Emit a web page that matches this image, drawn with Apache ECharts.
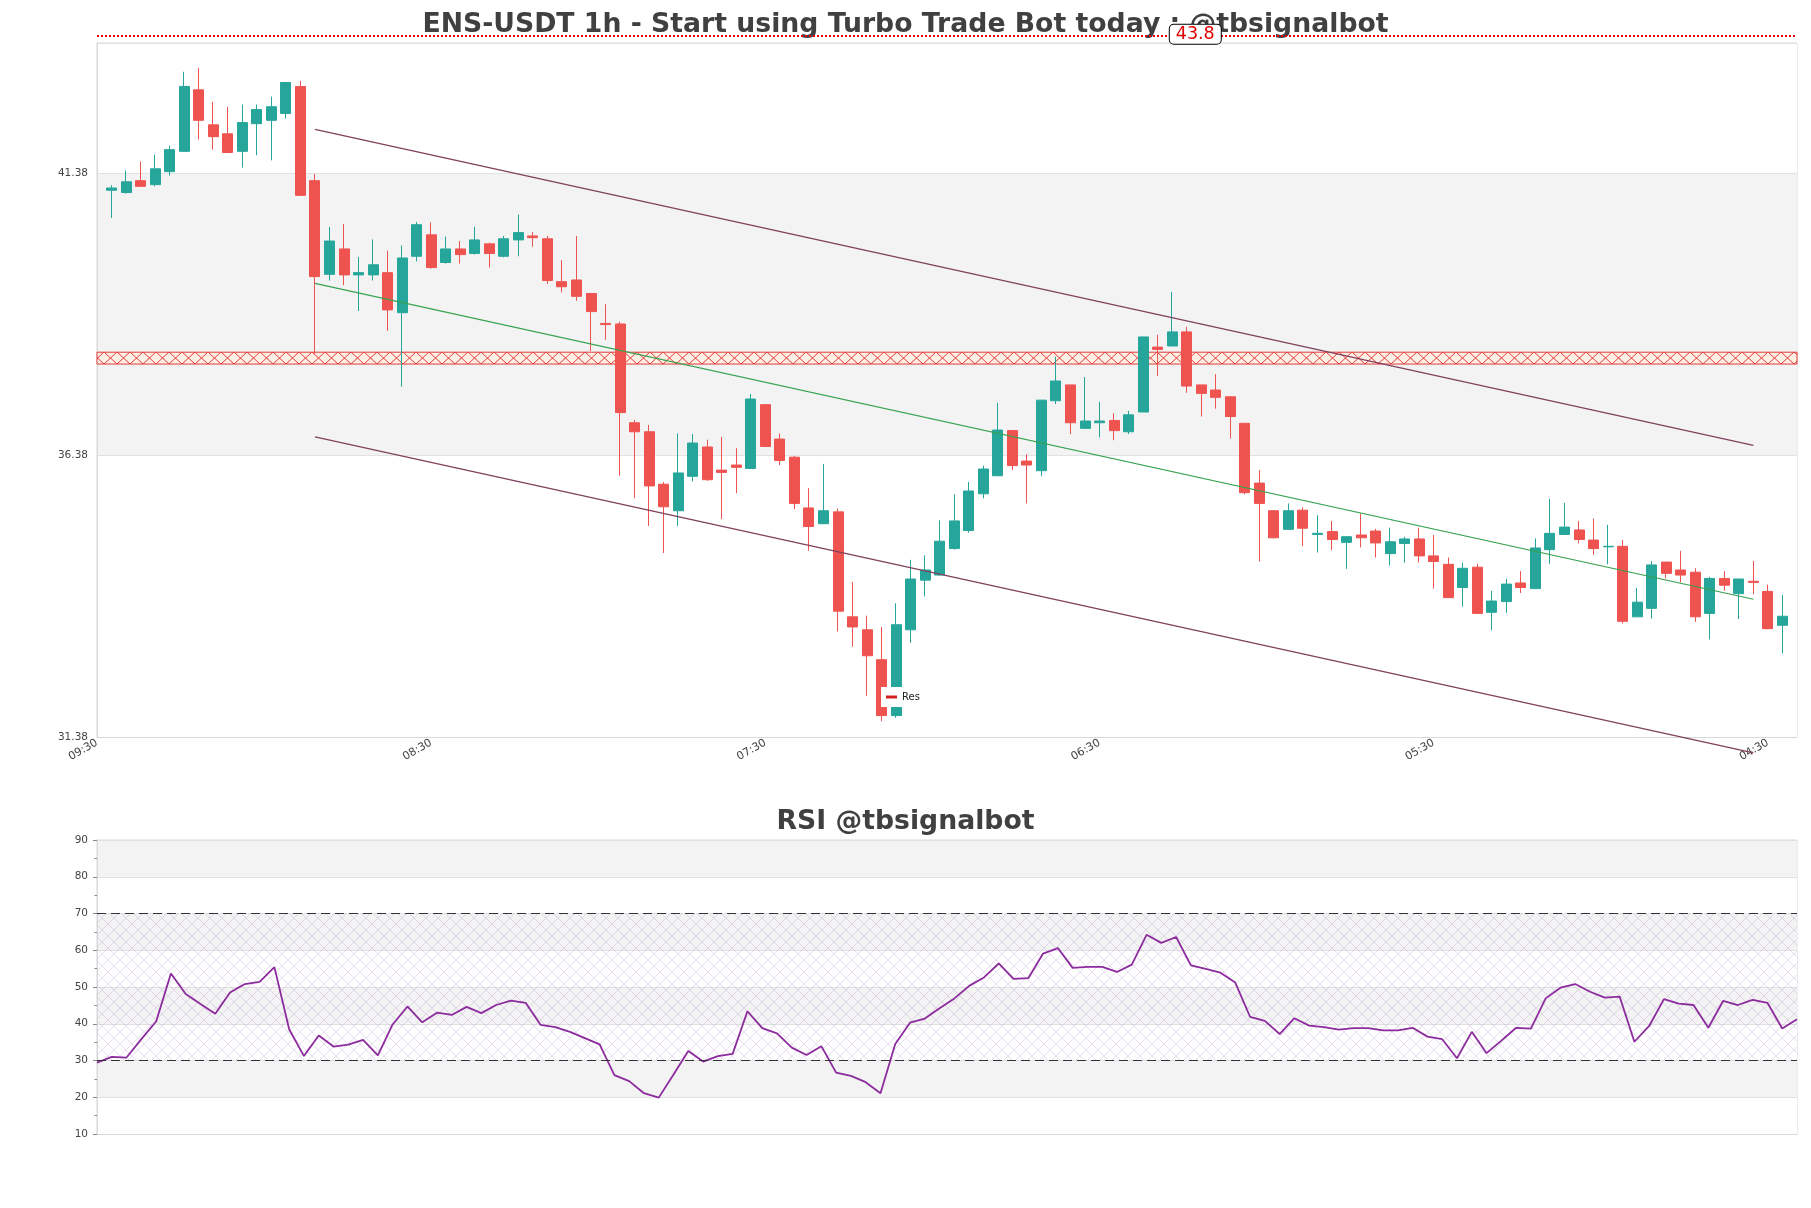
<!DOCTYPE html>
<html>
<head>
<meta charset="utf-8">
<title>ENS-USDT 1h</title>
<script src="https://cdn.jsdelivr.net/npm/echarts@6/dist/echarts.min.js"></script>
<style>
  html, body { margin: 0; padding: 0; background: #fff; }
  #chart { width: 1811px; height: 1208px; }
</style>
</head>
<body>
<div id="chart"></div>
<script>
// hourly candles, oldest first
const candleOpen = [41.07, 41.03, 41.24, 41.17, 41.40, 41.76, 42.85, 42.23, 42.07, 41.76,
  42.25, 42.31, 42.43, 42.91, 41.24, 39.58, 40.03, 39.57, 39.57, 39.61,
  38.90, 39.90, 40.28, 39.79, 40.03, 39.95, 40.12, 39.90, 40.19, 40.26,
  40.21, 39.45, 39.48, 39.24, 38.71, 38.70, 36.95, 36.79, 35.86, 35.39,
  36.00, 36.52, 36.11, 36.20, 36.14, 37.27, 36.66, 36.34, 35.44, 35.16,
  35.37, 33.51, 33.28, 32.75, 31.76, 33.28, 34.16, 34.25, 34.72, 35.04,
  35.69, 36.01, 36.81, 36.27, 36.10, 37.34, 37.62, 36.85, 36.95, 36.99,
  36.79, 37.14, 38.29, 38.31, 38.56, 37.62, 37.53, 37.41, 36.94, 35.88,
  35.39, 35.06, 35.40, 34.97, 35.02, 34.83, 34.96, 35.03, 34.63, 34.81,
  34.89, 34.59, 34.44, 34.03, 34.39, 33.59, 33.78, 34.11, 34.01, 34.70,
  34.97, 35.05, 34.87, 34.75, 34.76, 33.51, 33.66, 34.48, 34.34, 34.30,
  33.57, 34.19, 33.92, 34.14, 33.96, 33.36];
const candleClose = [41.11, 41.22, 41.14, 41.45, 41.79, 42.91, 42.31, 42.02, 41.74, 42.27,
  42.50, 42.55, 42.98, 40.98, 39.54, 40.17, 39.57, 39.61, 39.75, 38.95,
  39.87, 40.46, 39.70, 40.03, 39.93, 40.19, 39.95, 40.21, 40.32, 40.23,
  39.47, 39.36, 39.19, 38.92, 38.69, 37.13, 36.79, 35.83, 35.46, 36.06,
  36.59, 35.94, 36.07, 36.16, 37.37, 36.53, 36.28, 35.52, 35.11, 35.39,
  33.61, 33.33, 32.82, 31.76, 33.37, 34.18, 34.34, 34.85, 35.21, 35.74,
  36.13, 36.82, 36.19, 36.20, 37.35, 37.69, 36.95, 36.98, 36.98, 36.81,
  37.09, 38.47, 38.25, 38.56, 37.60, 37.47, 37.40, 37.06, 35.71, 35.52,
  34.91, 35.39, 35.08, 34.99, 34.88, 34.93, 34.91, 34.82, 34.84, 34.89,
  34.59, 34.49, 33.85, 34.37, 33.57, 33.79, 34.09, 34.03, 34.73, 34.99,
  35.10, 34.88, 34.72, 34.76, 33.43, 33.77, 34.43, 34.28, 34.25, 33.51,
  34.19, 34.07, 34.18, 34.12, 33.30, 33.52];
const candleLow = [40.58, 41.01, 41.13, 41.14, 41.33, 41.75, 41.97, 41.79, 41.74, 41.47,
  41.69, 41.60, 42.34, 40.97, 38.17, 39.47, 39.39, 38.93, 39.47, 38.58,
  37.59, 39.81, 39.68, 39.77, 39.77, 39.93, 39.70, 39.88, 39.90, 40.07,
  39.41, 39.26, 39.11, 38.22, 38.42, 36.01, 35.61, 35.12, 34.64, 35.12,
  35.91, 35.92, 35.24, 35.70, 36.13, 36.53, 36.20, 35.42, 34.68, 35.16,
  33.25, 32.98, 32.11, 31.66, 31.72, 33.05, 33.87, 34.24, 34.70, 35.00,
  35.61, 36.01, 36.11, 35.52, 36.00, 37.28, 36.75, 36.85, 36.69, 36.64,
  36.75, 37.14, 37.78, 38.31, 37.48, 37.06, 37.20, 36.67, 35.68, 34.49,
  34.90, 35.06, 34.76, 34.65, 34.69, 34.36, 34.74, 34.56, 34.42, 34.47,
  34.47, 34.01, 33.85, 33.69, 33.57, 33.27, 33.58, 33.93, 34.01, 34.45,
  34.97, 34.81, 34.61, 34.44, 33.39, 33.51, 33.48, 34.19, 34.12, 33.42,
  33.11, 33.97, 33.47, 33.91, 33.29, 32.86];
const candleHigh = [41.16, 41.42, 41.58, 41.70, 41.86, 43.17, 43.24, 42.64, 42.55, 42.59,
  42.59, 42.73, 42.98, 43.01, 41.36, 40.42, 40.47, 39.89, 40.20, 40.00,
  40.09, 40.51, 40.50, 40.25, 40.17, 40.42, 40.14, 40.26, 40.64, 40.33,
  40.26, 39.83, 40.26, 39.25, 39.05, 38.74, 37.00, 36.91, 35.90, 36.76,
  36.75, 36.65, 36.70, 36.50, 37.46, 37.28, 36.76, 36.36, 35.79, 36.22,
  35.43, 34.13, 33.53, 33.33, 33.75, 34.52, 34.60, 35.22, 35.68, 35.90,
  36.19, 37.30, 36.82, 36.39, 37.35, 38.12, 37.62, 37.76, 37.32, 37.12,
  37.16, 38.47, 38.51, 39.27, 38.65, 37.62, 37.81, 37.41, 36.94, 36.11,
  35.40, 35.52, 35.45, 35.31, 35.21, 34.93, 35.34, 35.07, 35.09, 34.93,
  35.09, 34.96, 34.56, 34.47, 34.45, 33.97, 34.18, 34.32, 34.90, 35.60,
  35.53, 35.21, 35.25, 35.14, 34.87, 34.02, 34.50, 34.48, 34.68, 34.37,
  34.22, 34.32, 34.18, 34.50, 34.08, 33.90];

const rsiValues = [29.4, 31.0, 30.8, 35.8, 40.6, 53.7, 48.1, 45.4, 42.7, 48.5,
  50.8, 51.4, 55.4, 38.5, 31.2, 36.8, 33.8, 34.3, 35.6, 31.4,
  39.8, 44.7, 40.4, 43.0, 42.4, 44.6, 42.9, 45.1, 46.3, 45.7,
  39.7, 39.1, 37.8, 36.1, 34.4, 26.0, 24.4, 21.1, 19.9, 26.2,
  32.6, 29.7, 31.2, 31.8, 43.4, 38.8, 37.4, 33.5, 31.5, 33.9,
  26.7, 25.8, 24.1, 21.1, 34.5, 40.3, 41.4, 44.2, 46.9, 50.3,
  52.6, 56.4, 52.2, 52.4, 59.1, 60.6, 55.2, 55.5, 55.5, 54.1,
  56.1, 64.2, 62.0, 63.6, 55.9, 54.9, 53.9, 51.2, 41.9, 40.8,
  37.2, 41.5, 39.5, 39.1, 38.4, 38.8, 38.8, 38.2, 38.2, 38.9,
  36.5, 35.8, 30.6, 37.8, 32.0, 35.4, 38.9, 38.7, 46.9, 49.8,
  50.8, 48.7, 47.1, 47.4, 35.1, 39.4, 46.7, 45.5, 45.1, 38.9,
  46.2, 45.1, 46.5, 45.7, 38.7, 41.2];

// price channel, from candle 14 to candle 113
const channelIdx = [14, 113];
const channelUpper = [42.15, 36.55];
const channelMid = [39.42, 33.82];
const channelLower = [36.70, 31.10];

const resBand = [37.99, 38.20];   // "Res" zone
const levelValue = 43.8;          // dotted level above the plot
const levelLabelIdx = 75;
const rsiLines = [30, 70];

const priceMin = 31.38, priceMax = 43.68, priceStep = 5;

// hourly slots, one empty slot each side of the candles; first slot is 09:30
const firstHour = 9;
const slotLabels = [];
for (let k = 0; k < candleOpen.length + 2; k++) {
  slotLabels.push(String((firstHour + k) % 24).padStart(2, '0') + ':30');
}
const rsiLabels = slotLabels.slice(1, slotLabels.length - 1);

// small X tile; cy = row where the diagonals cross
function hatchTile(w, h, cy, stroke, bg, lw) {
  const c = document.createElement('canvas');
  c.width = w; c.height = h;
  const g = c.getContext('2d');
  if (bg) { g.fillStyle = bg; g.fillRect(0, 0, w, h); }
  g.strokeStyle = stroke;
  g.lineWidth = lw;
  g.beginPath();
  [-h, 0, h].forEach(function (dy) {
    const y = cy + dy;
    g.moveTo(0, y - h / 2); g.lineTo(w, y + h / 2);
    g.moveTo(0, y + h / 2); g.lineTo(w, y - h / 2);
  });
  g.stroke();
  return c;
}

const chart = echarts.init(document.getElementById('chart'));

const candleData = [['-', '-', '-', '-']];
for (let i = 0; i < candleOpen.length; i++) {
  candleData.push([candleOpen[i], candleClose[i], candleLow[i], candleHigh[i]]);
}
candleData.push(['-', '-', '-', '-']);

function channelData(vals) {
  return [[channelIdx[0] + 1, vals[0]], [channelIdx[1] + 1, vals[1]]];
}

// grid geometry
const topGrid = { left: 97, right: 14, top: 43, height: 694 };
const rsiGrid = { left: 97, right: 14, top: 840, height: 294 };
// overlay grid, same scale as the price grid but 13px taller, for the level above the frame
const pxPerUnit = topGrid.height / (priceMax - priceMin);
const overlayTop = 30;
const overlayMax = priceMin + (topGrid.height + topGrid.top - overlayTop) / pxPerUnit;

const labelColor = '#444';
const frameColor = '#d9d9d9';
const titleStyle = { fontSize: 26.7, fontWeight: 'bold', color: '#404040', fontFamily: 'DejaVu Sans' };

const option = {
  animation: false,
  backgroundColor: '#fff',
  textStyle: { fontFamily: 'DejaVu Sans' },
  title: [
    {
      text: 'ENS-USDT 1h - Start using Turbo Trade Bot today : @tbsignalbot',
      left: 'center', top: 7, z: 2,
      textStyle: titleStyle
    },
    {
      text: 'RSI @tbsignalbot',
      left: 'center', top: 804, z: 2,
      textStyle: titleStyle
    }
  ],
  legend: {
    data: ['Res'],
    left: 881, top: 687,
    icon: 'rect', itemWidth: 11, itemHeight: 3,
    backgroundColor: '#fff',
    padding: [5, 6, 5, 5],
    textStyle: { fontSize: 10, color: '#222' }
  },
  grid: [
    Object.assign({ show: true, borderColor: frameColor, borderWidth: 1 }, topGrid),
    Object.assign({ show: true, borderColor: frameColor, borderWidth: 1 }, rsiGrid),
    { left: 97, right: 14, top: overlayTop, height: topGrid.height + topGrid.top - overlayTop, show: false }
  ],
  xAxis: [
    {
      gridIndex: 0, type: 'category', data: slotLabels, boundaryGap: false,
      axisLine: { show: true, lineStyle: { color: frameColor } },
      axisTick: { show: false },
      axisLabel: { interval: 22, rotate: 30, fontSize: 11, color: labelColor, margin: 5 },
      splitLine: { show: false }
    },
    {
      gridIndex: 1, type: 'category', data: rsiLabels, boundaryGap: false,
      axisLine: { show: true, lineStyle: { color: frameColor } },
      axisTick: { show: false }, axisLabel: { show: false }, splitLine: { show: false }
    },
    {
      gridIndex: 2, type: 'category', data: slotLabels, boundaryGap: false, show: false
    }
  ],
  yAxis: [
    {
      gridIndex: 0, type: 'value', min: priceMin, max: priceMax, interval: priceStep,
      axisLine: { show: true, lineStyle: { color: frameColor } },
      axisTick: { show: false },
      axisLabel: { fontSize: 10.5, color: labelColor, margin: 9, showMaxLabel: false,
        formatter: v => v.toFixed(2) },
      splitLine: { show: true, lineStyle: { color: '#e2e2e2' } },
      splitArea: { show: true, areaStyle: { color: ['#ffffff', '#f3f3f3'] } }
    },
    {
      gridIndex: 1, type: 'value', min: 10, max: 90, interval: 10,
      axisLine: { show: true, lineStyle: { color: frameColor } },
      axisTick: { show: true, length: 4, lineStyle: { color: '#888' } },
      minorTick: { show: true, splitNumber: 2, length: 2.5, lineStyle: { color: '#888' } },
      axisLabel: { fontSize: 10.5, color: labelColor, margin: 9 },
      splitLine: { show: true, lineStyle: { color: '#e0e0e0' } },
      splitArea: { show: true, areaStyle: { color: ['#ffffff', '#f3f3f3'] } }
    },
    {
      gridIndex: 2, type: 'value', min: priceMin, max: overlayMax, show: false
    }
  ],
  series: [
    {
      name: 'Res', type: 'line', xAxisIndex: 0, yAxisIndex: 0, data: [],
      color: '#d42020', z: 1,
      markArea: {
        silent: true,
        itemStyle: {
          color: { image: hatchTile(13, 12, 10, '#e23a3a', 'rgba(255,238,226,0.85)', 1), repeat: 'repeat' },
          borderColor: '#e23a3a', borderWidth: 1
        },
        data: [[{ yAxis: resBand[1] }, { yAxis: resBand[0] }]]
      }
    },
    {
      name: 'ENS-USDT', type: 'candlestick', xAxisIndex: 0, yAxisIndex: 0,
      data: candleData, barWidth: 10.5, z: 3,
      itemStyle: { color: '#26a69a', color0: '#ef5350', borderColor: '#26a69a', borderColor0: '#ef5350', borderWidth: 1 }
    },
    {
      name: 'upper', type: 'line', xAxisIndex: 0, yAxisIndex: 0, data: channelData(channelUpper),
      symbol: 'none', clip: false, z: 4, lineStyle: { color: '#80405e', width: 1.3 }
    },
    {
      name: 'mid', type: 'line', xAxisIndex: 0, yAxisIndex: 0, data: channelData(channelMid),
      symbol: 'none', clip: false, z: 4, lineStyle: { color: '#37a24f', width: 1.1 }
    },
    {
      name: 'lower', type: 'line', xAxisIndex: 0, yAxisIndex: 0, data: channelData(channelLower),
      symbol: 'none', clip: false, z: 4, lineStyle: { color: '#80405e', width: 1.3 }
    },
    {
      name: 'level', type: 'line', xAxisIndex: 2, yAxisIndex: 2, data: [], clip: false, z: 10,
      markLine: {
        silent: true, symbol: ['none', 'none'], label: { show: false }, z: 10,
        lineStyle: { color: '#e00000', type: 'dotted', width: 2 },
        data: [{ yAxis: levelValue }]
      },
      markPoint: {
        silent: true, symbol: 'rect', symbolSize: 1, z: 12, itemStyle: { color: 'rgba(0,0,0,0)' },
        label: {
          show: true, position: 'inside', formatter: String(levelValue), offset: [-6, -2],
          color: '#e00000', fontSize: 17.5, backgroundColor: '#fff',
          borderColor: '#000', borderWidth: 1, borderRadius: 4, padding: [1, 6, 0, 6]
        },
        data: [{ coord: [levelLabelIdx + 1, levelValue] }]
      }
    },
    {
      name: 'rsiZone', type: 'line', xAxisIndex: 1, yAxisIndex: 1, data: [], z: 1,
      markArea: {
        silent: true,
        itemStyle: { color: { image: hatchTile(12, 12, 6, 'rgba(165,135,185,0.38)', null, 0.7), repeat: 'repeat' } },
        data: [[{ yAxis: rsiLines[1] }, { yAxis: rsiLines[0] }]]
      }
    },
    {
      name: 'RSI', type: 'line', xAxisIndex: 1, yAxisIndex: 1, data: rsiValues,
      symbol: 'none', z: 3, lineStyle: { color: '#8c2b9d', width: 1.8 },
      markLine: {
        silent: true, symbol: ['none', 'none'], label: { show: false },
        lineStyle: { color: '#333', type: [9, 5], width: 1.2 },
        data: rsiLines.map(v => ({ yAxis: v }))
      }
    }
  ]
};

chart.setOption(option);
</script>
</body>
</html>
